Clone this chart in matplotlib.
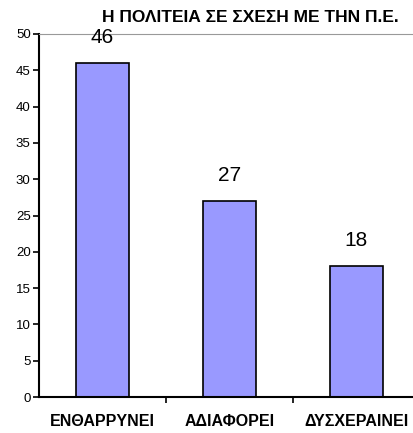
import matplotlib.pyplot as plt
import numpy as np

plt.rcParams['font.family'] = ['Liberation Sans', 'DejaVu Sans']

# Δεδομένα
categories = ['ΕΝΘΑΡΡΥΝΕΙ', 'ΑΔΙΑΦΟΡΕΙ', 'ΔΥΣΧΕΡΑΙΝΕΙ']
values = [46, 27, 18]
y_ticks = [0, 5, 10, 15, 20, 25, 30, 35, 40, 45, 50]
title = 'Η ΠΟΛΙΤΕΙΑ ΣΕ ΣΧΕΣΗ ΜΕ ΤΗΝ Π.Ε.'

W, H = 413, 433
fig = plt.figure(figsize=(W / 100, H / 100), dpi=100)
# άξονες: αριστερά 39px, δεξιά 420px (κόβεται), κάτω 397px, πάνω 34px
ax = fig.add_axes([39 / W, 1 - 397 / H, 381 / W, 363 / H])

x = np.arange(len(categories))
bars = ax.bar(x, values, width=0.41, color='#9999FF', edgecolor='black', linewidth=1.2)

# τιμές πάνω από τις μπάρες
for xi, v in zip(x, values):
    ax.annotate(str(v), (xi, v), xytext=(0, 18.5), textcoords='offset points',
                ha='center', va='center', fontsize=15)

ax.set_xlim(-0.5, 2.5)
ax.set_ylim(0, 50)
ax.set_yticks(y_ticks)
ax.tick_params(axis='y', labelsize=9.5, length=4, width=1.2, pad=2)

ax.set_xticks(x)
ax.set_xticklabels(categories, fontsize=11.5, fontweight='bold')
ax.tick_params(axis='x', which='major', length=0, pad=12)
ax.set_xticks([0.5, 1.5], minor=True)
ax.tick_params(axis='x', which='minor', length=4, width=1.2)

ax.spines['right'].set_visible(False)
ax.spines['top'].set_color('#999999')
ax.spines['left'].set_linewidth(1.5)
ax.spines['bottom'].set_linewidth(1.5)

fig.text(250 / W, 1 - 18 / H, title, ha='center', va='center',
         fontsize=12.5, fontweight='bold')

fig.savefig('out.png', dpi=100)
